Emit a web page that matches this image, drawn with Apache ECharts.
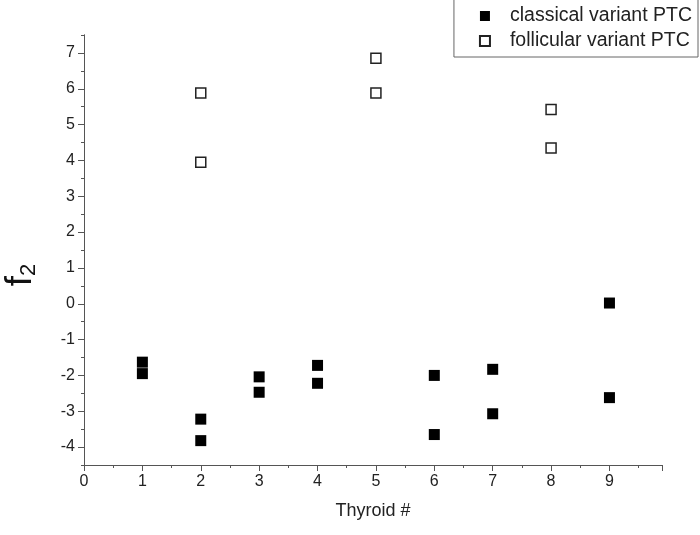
<!DOCTYPE html>
<html><head><meta charset="utf-8">
<script src="https://cdn.jsdelivr.net/npm/echarts@6/dist/echarts.min.js"></script>
<style>html,body{margin:0;padding:0;background:#fff}#c{width:700px;height:535px}</style>
</head><body><div id="c"></div>
<script>
const classicalX = [1,1,2,2,3,3,4,4,6,6,7,7,9,9];
const classicalY = [-1.63,-1.95,-3.22,-3.82,-2.04,-2.47,-1.72,-2.22,-2.0,-3.65,-1.83,-3.07,0.02,-2.62];
const follicularX = [2,2,5,5,8,8];
const follicularY = [5.88,3.95,6.85,5.88,5.42,4.35];
const xTicks = [0,1,2,3,4,5,6,7,8,9];
const yTicks = [-4,-3,-2,-1,0,1,2,3,4,5,6,7];

const pair = (xs, ys) => xs.map((x, i) => [x, ys[i]]);
const font = 'Liberation Sans, Arial, sans-serif';
const axisCol = '#555';
const yBase = {
  type: 'value', min: -4.5, max: 7.5, interval: 0.5, position: 'left',
  axisLine: {show: true, onZero: false, lineStyle: {color: axisCol, width: 1}},
  splitLine: {show: false}
};
const chart = echarts.init(document.getElementById('c'));
chart.setOption({
  animation: false,
  textStyle: {fontFamily: font},
  grid: {left: 84, right: 38, top: 35, bottom: 70, outerBoundsMode: 'none', containLabel: false},
  legend: {
    orient: 'vertical', right: 2, top: -2,
    borderColor: '#666', borderWidth: 1, padding: [8, 6, 6, 25],
    itemWidth: 10, itemHeight: 10, itemGap: 5,
    textStyle: {fontSize: 19.5, color: '#222', fontFamily: font, padding: [0, 0, 0, 15]},
    data: [
      {name: 'classical variant PTC', icon: 'rect'},
      {name: 'follicular variant PTC', icon: 'rect'}
    ]
  },
  xAxis: {
    type: 'value', min: 0, max: 9.9, interval: 1,
    name: 'Thyroid #', nameLocation: 'middle', nameGap: 37,
    nameTextStyle: {fontSize: 18, color: '#222', fontFamily: font},
    axisLine: {show: true, onZero: false, lineStyle: {color: axisCol, width: 1}},
    axisTick: {show: true, length: 6, lineStyle: {color: axisCol}},
    minorTick: {show: true, splitNumber: 2, length: 3, lineStyle: {color: axisCol}},
    splitLine: {show: false},
    axisLabel: {fontSize: 16, color: '#222', margin: 9,
      formatter: v => xTicks.includes(v) ? String(v) : ''}
  },
  yAxis: [
    Object.assign({}, yBase, {
      axisTick: {show: true, length: 3, lineStyle: {color: axisCol}},
      axisLabel: {show: false}
    }),
    Object.assign({}, yBase, {
      name: '{f|f}{s|2}{g|}', nameLocation: 'middle', nameGap: 44, nameRotate: 90,
      nameTextStyle: {
        rich: {
          f: {fontSize: 37, color: '#111', fontFamily: font},
          s: {fontSize: 22, color: '#111', fontFamily: font, verticalAlign: 'bottom', padding: [16, 0, 0, 0]},
          g: {width: 50}
        }
      },
      axisTick: {show: true, length: 6, customValues: yTicks, lineStyle: {color: axisCol}},
      axisLabel: {show: true, customValues: yTicks, fontSize: 16, color: '#222', margin: 9}
    })
  ],
  series: [
    {
      name: 'classical variant PTC', type: 'scatter', symbol: 'rect', symbolSize: 11,
      itemStyle: {color: '#000', opacity: 1},
      data: pair(classicalX, classicalY)
    },
    {
      name: 'follicular variant PTC', type: 'scatter', symbol: 'rect', symbolSize: 10,
      itemStyle: {color: '#fff', borderColor: '#222', borderWidth: 1.5, opacity: 1},
      data: pair(follicularX, follicularY)
    }
  ]
});
</script></body></html>
